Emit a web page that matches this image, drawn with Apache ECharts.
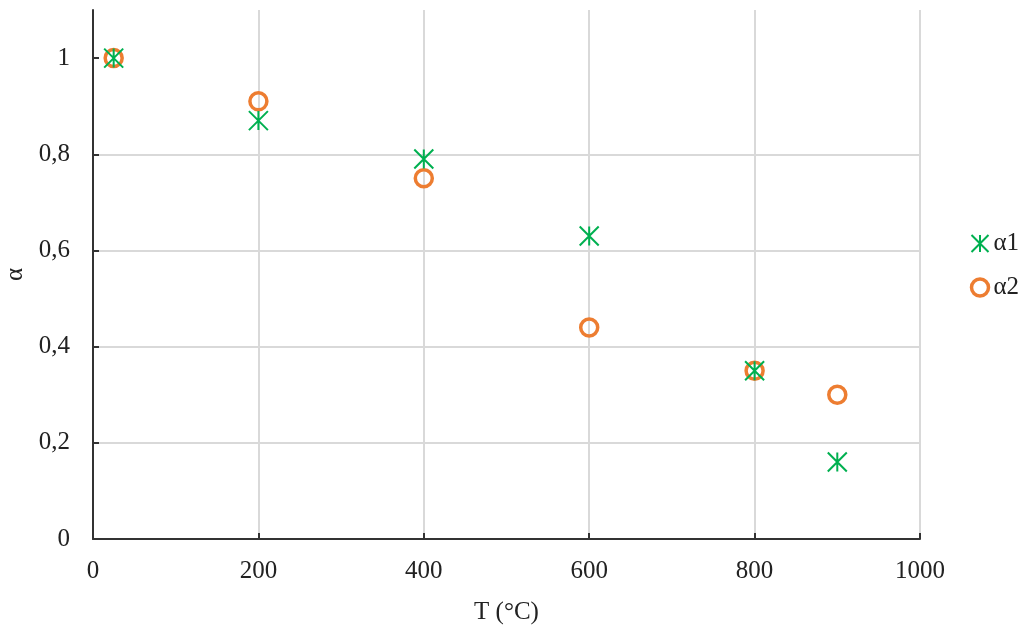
<!DOCTYPE html>
<html><head><meta charset="utf-8">
<script src="https://cdn.jsdelivr.net/npm/echarts@6/dist/echarts.min.js"></script>
<style>html,body{margin:0;padding:0;background:#fff}#c{width:1023px;height:625px}</style>
</head><body><div id="c"></div>
<script>
const temps = [25, 200, 400, 600, 800, 900];
const alpha1 = [1.0, 0.87, 0.79, 0.63, 0.35, 0.16];
const alpha2 = [1.0, 0.91, 0.75, 0.44, 0.35, 0.30];
const seriesNames = ['α1', 'α2'];
const yTicks = [0, 0.2, 0.4, 0.6, 0.8, 1];
const xTicks = [0, 200, 400, 600, 800, 1000];

const font = 'Liberation Serif, Times New Roman, serif';
const asterisk = 'path://M0,0L10,10M10,0L0,10M5,0L5,10';
const green = '#00b050';
const orange = '#ed7d31';
const fs = 25;

const chart = echarts.init(document.getElementById('c'), null, {renderer: 'canvas'});
chart.setOption({
  animation: false,
  textStyle: {fontFamily: font},
  grid: {left: 93, right: 103, top: 10, bottom: 86, containLabel: false, outerBoundsMode: 'none'},
  legend: {
    orient: 'vertical', left: 969, top: 231, itemGap: 19, padding: 0,
    itemWidth: 17, itemHeight: 17,
    textStyle: {fontFamily: font, fontSize: fs, color: '#222'},
    data: [
      {name: seriesNames[0], icon: asterisk, itemStyle: {color: 'none', borderColor: green, borderWidth: 2, opacity: 1}},
      {name: seriesNames[1], icon: 'circle', itemStyle: {color: 'none', borderColor: orange, borderWidth: 3.5, opacity: 1}}
    ]
  },
  xAxis: {
    type: 'value', min: 0, max: 1000, interval: 200,
    name: 'T (°C)', nameLocation: 'middle', nameGap: 61,
    nameTextStyle: {fontFamily: font, fontSize: fs, color: '#222'},
    axisLine: {show: true, lineStyle: {color: '#333', width: 2}},
    axisTick: {show: true, inside: true, length: 6, lineStyle: {color: '#333', width: 2}, customValues: xTicks},
    axisLabel: {fontFamily: font, fontSize: fs, color: '#222', margin: 20, customValues: xTicks,
      formatter: v => String(v)},
    splitLine: {show: true, lineStyle: {color: '#d9d9d9', width: 2}}
  },
  yAxis: {
    type: 'value', min: 0, max: 1.1, interval: 0.2,
    name: 'α', nameLocation: 'middle', nameGap: 59, nameRotate: 90,
    nameTextStyle: {fontFamily: font, fontSize: fs, color: '#222'},
    axisLine: {show: true, lineStyle: {color: '#333', width: 2}},
    axisTick: {show: true, inside: true, length: 6, lineStyle: {color: '#333', width: 2}, customValues: yTicks},
    axisLabel: {fontFamily: font, fontSize: fs, color: '#222', margin: 23, customValues: yTicks,
      formatter: v => String(Math.round(v * 10) / 10).replace('.', ',')},
    splitLine: {show: true, showMaxLine: false, lineStyle: {color: '#d9d9d9', width: 2}}
  },
  series: [
    {
      name: seriesNames[0], type: 'scatter', symbol: asterisk, symbolSize: 19, z: 3,
      itemStyle: {color: 'none', borderColor: green, borderWidth: 2, opacity: 1},
      data: temps.map((t, i) => [t, alpha1[i]])
    },
    {
      name: seriesNames[1], type: 'scatter', symbol: 'circle', symbolSize: 17, z: 2,
      itemStyle: {color: 'none', borderColor: orange, borderWidth: 3.5, opacity: 1},
      data: temps.map((t, i) => [t, alpha2[i]])
    }
  ]
});
</script></body></html>
